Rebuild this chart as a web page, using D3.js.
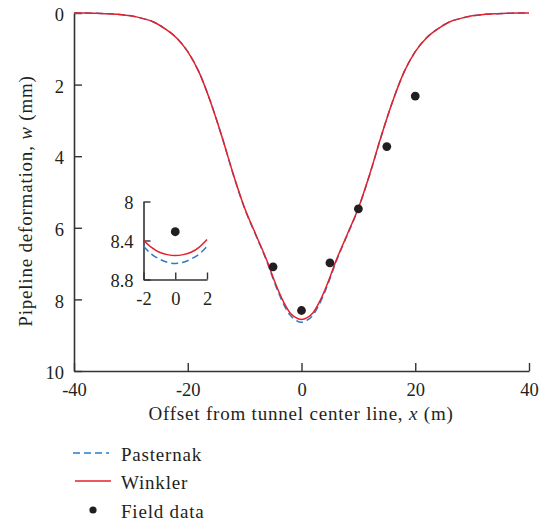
<!DOCTYPE html>
<html>
<head>
<meta charset="utf-8">
<script src="https://cdn.jsdelivr.net/npm/d3@7/dist/d3.min.js"></script>
<style>
  html, body { margin: 0; padding: 0; background: #fff; }
  svg { display: block; }
  text { font-family: "Liberation Serif", "DejaVu Serif", serif; fill: #231f20; }
</style>
</head>
<body>
<svg id="chart" width="539" height="525"></svg>
<script>
// ---- data ----
const offsets = [-40,-38,-36,-34,-32,-30,-28,-26,-24,-22,-20,-18,-16,-14,-12,-10,-8,-6,-5,-4,-3,-2,-1,0,1,2,3,4,5,6,8,10,12,14,16,18,20,22,24,26,28,30,32,34,36,38,40];
const winkler = [0.00,0.00,0.01,0.02,0.04,0.08,0.15,0.25,0.44,0.69,1.08,1.66,2.48,3.45,4.50,5.45,6.20,6.95,7.38,7.78,8.12,8.38,8.51,8.56,8.51,8.38,8.12,7.78,7.38,6.95,6.20,5.45,4.50,3.45,2.48,1.66,1.08,0.69,0.44,0.25,0.15,0.08,0.04,0.02,0.01,0.00,0.00];
const pasternak = [0.00,0.00,0.01,0.02,0.04,0.08,0.15,0.25,0.44,0.69,1.08,1.66,2.48,3.45,4.51,5.46,6.22,6.98,7.42,7.83,8.18,8.44,8.58,8.64,8.58,8.44,8.18,7.83,7.42,6.98,6.22,5.46,4.51,3.45,2.48,1.66,1.08,0.69,0.44,0.25,0.15,0.08,0.04,0.02,0.01,0.00,0.00];
const fieldX = [-5, 0, 5, 10, 15, 20];
const fieldW = [7.09, 8.31, 6.98, 5.47, 3.73, 2.32];

// inset (zoom of the trough)
const insetX = [-2,-1.5,-1,-0.5,0,0.5,1,1.5,2];
const insetWinkler = [8.40,8.47,8.52,8.545,8.555,8.545,8.52,8.47,8.39];
const insetPasternak = [8.46,8.54,8.59,8.624,8.635,8.624,8.59,8.54,8.46];

const xTicks = [-40,-20,0,20,40];
const yTicks = [0,2,4,6,8,10];
const insetXTicks = [-2,0,2];
const insetYTicks = [8,8.4,8.8];

const RED = "#e5202b", BLUE = "#2a7cc7", DOT = "#231f20", AXIS = "#333333";

const svg = d3.select("#chart");

// ---- main chart ----
const x = d3.scaleLinear().domain([-40, 40]).range([74, 529]);
const y = d3.scaleLinear().domain([0, 10]).range([13, 371]);

function styleAxis(g) {
  g.selectAll("path.domain").attr("stroke", AXIS).attr("stroke-width", 1.6);
  g.selectAll(".tick line").attr("stroke", AXIS).attr("stroke-width", 1.4);
  g.selectAll("text").attr("font-family", "Liberation Serif, serif").attr("fill", "#231f20");
}

svg.append("g")
  .attr("transform", "translate(0,371)")
  .call(d3.axisBottom(x).tickValues(xTicks).tickFormat(d => String(d)).tickSizeInner(-8).tickSizeOuter(0).tickPadding(12))
  .call(g => g.selectAll("text").attr("font-size", 18.5))
  .call(styleAxis);

svg.append("g")
  .attr("transform", "translate(74,0)")
  .call(d3.axisLeft(y).tickValues(yTicks).tickFormat(d => String(d)).tickSizeInner(-8).tickSizeOuter(0).tickPadding(10))
  .call(g => g.selectAll("text").attr("font-size", 18.5).attr("dy", "0.42em"))
  .call(styleAxis);

const mainLine = arr => d3.line().x((d, i) => x(offsets[i])).y(d => y(d)).curve(d3.curveMonotoneX)(arr);

svg.append("path").attr("d", mainLine(pasternak))
  .attr("fill", "none").attr("stroke", BLUE).attr("stroke-width", 1.5).attr("stroke-dasharray", "7,4");
svg.append("path").attr("d", mainLine(winkler))
  .attr("fill", "none").attr("stroke", RED).attr("stroke-width", 1.5);

svg.append("g").selectAll("circle").data(fieldX).join("circle")
  .attr("cx", d => x(d)).attr("cy", (d, i) => y(fieldW[i])).attr("r", 4.4).attr("fill", DOT);

// axis titles
const xt = svg.append("text").attr("x", 301).attr("y", 420).attr("text-anchor", "middle")
  .attr("font-size", 19).attr("letter-spacing", 0.8);
xt.append("tspan").text("Offset from tunnel center line, ");
xt.append("tspan").attr("font-style", "italic").text("x");
xt.append("tspan").text(" (m)");

const yt = svg.append("text").attr("transform", "translate(32,201) rotate(-90)").attr("text-anchor", "middle")
  .attr("font-size", 19).attr("letter-spacing", 0.8);
yt.append("tspan").text("Pipeline deformation, ");
yt.append("tspan").attr("font-style", "italic").text("w");
yt.append("tspan").text(" (mm)");

// ---- inset ----
const ix = d3.scaleLinear().domain([-2, 2]).range([143.5, 207]);
const iy = d3.scaleLinear().domain([8, 8.8]).range([201.5, 279.5]);

svg.append("g")
  .attr("transform", "translate(0,279.5)")
  .call(d3.axisBottom(ix).tickValues(insetXTicks).tickFormat(d => String(d)).tickSizeInner(-7).tickSizeOuter(0).tickPadding(12))
  .call(g => g.selectAll("text").attr("font-size", 18.5))
  .call(styleAxis);

svg.append("g")
  .attr("transform", "translate(143.5,0)")
  .call(d3.axisLeft(iy).tickValues(insetYTicks).tickFormat(d => String(d)).tickSizeInner(-7).tickSizeOuter(0).tickPadding(10))
  .call(g => g.selectAll("text").attr("font-size", 18.5).attr("dy", "0.4em"))
  .call(styleAxis);

const insetLine = arr => d3.line().x((d, i) => ix(insetX[i])).y(d => iy(d)).curve(d3.curveMonotoneX)(arr);
svg.append("path").attr("d", insetLine(insetPasternak))
  .attr("fill", "none").attr("stroke", BLUE).attr("stroke-width", 1.5).attr("stroke-dasharray", "7,4");
svg.append("path").attr("d", insetLine(insetWinkler))
  .attr("fill", "none").attr("stroke", RED).attr("stroke-width", 1.5);
svg.append("circle").attr("cx", ix(fieldX[1])).attr("cy", iy(fieldW[1])).attr("r", 4.4).attr("fill", DOT);

// ---- legend ----
const legend = svg.append("g");
const legendItems = [
  {label: "Pasternak", type: "dash", y: 453},
  {label: "Winkler", type: "line", y: 481},
  {label: "Field data", type: "dot", y: 510}
];
legendItems.forEach(it => {
  if (it.type === "dash") {
    legend.append("line").attr("x1", 73).attr("x2", 109).attr("y1", it.y).attr("y2", it.y)
      .attr("stroke", BLUE).attr("stroke-width", 1.5).attr("stroke-dasharray", "7,4");
  } else if (it.type === "line") {
    legend.append("line").attr("x1", 75).attr("x2", 111).attr("y1", it.y).attr("y2", it.y)
      .attr("stroke", RED).attr("stroke-width", 1.5);
  } else {
    legend.append("circle").attr("cx", 93).attr("cy", it.y).attr("r", 3.6).attr("fill", DOT);
  }
  legend.append("text").attr("x", 121).attr("y", it.y + 8).attr("font-size", 19).attr("letter-spacing", 0.8).text(it.label);
});
</script>
</body>
</html>
